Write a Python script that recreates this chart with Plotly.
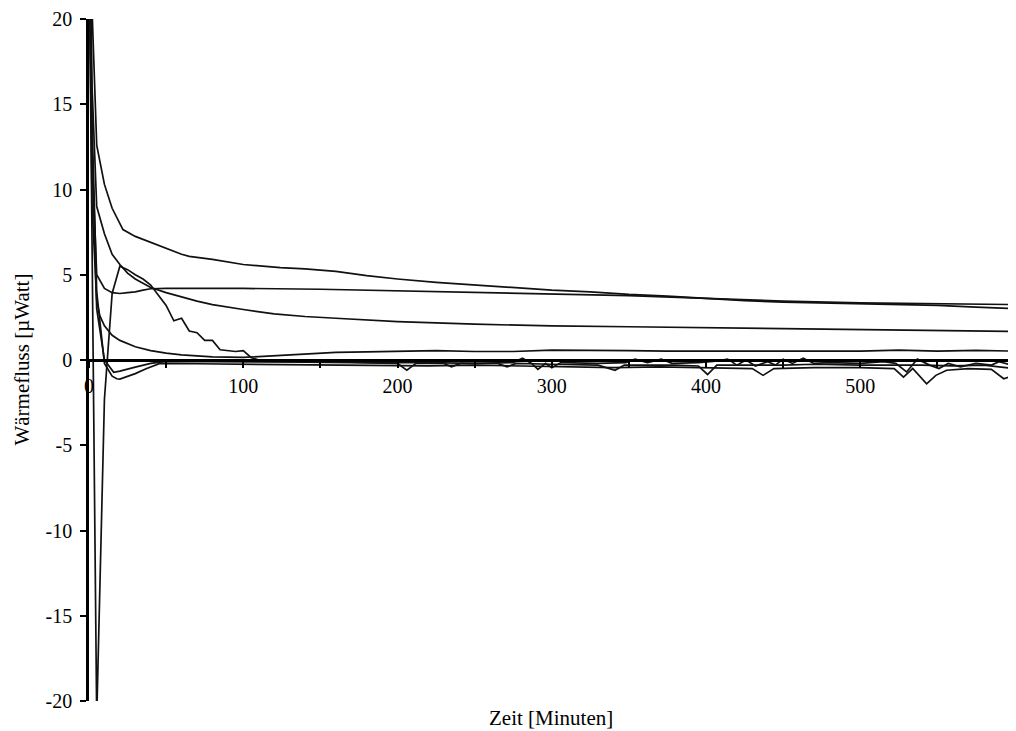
import plotly.graph_objects as go

# ---- data (minutes, µWatt) ----
t_a = [0, 2, 5, 10, 15, 20, 22, 30, 40, 46, 50, 60, 65, 80, 100, 124, 140, 160, 180, 200, 225, 250, 275,
       300, 325, 350, 375, 400, 425, 450, 475, 500, 525, 550, 575, 600]
v_a = [40, 20.5, 12.6, 10.3, 8.9, 8.0, 7.65, 7.25, 6.9, 6.67, 6.55, 6.2, 6.08, 5.9, 5.6, 5.42, 5.35, 5.2, 4.95,
       4.75, 4.55, 4.4, 4.25, 4.1, 4.0, 3.85, 3.75, 3.62, 3.48, 3.4, 3.35, 3.3, 3.25, 3.2, 3.1, 3.02]

t_b = [0, 2, 5, 10, 15, 20, 25, 30, 35, 40, 50, 100, 150, 200, 250, 300, 350, 400, 450, 500, 550, 600]
v_b = [25, 12, 5.0, 4.2, 3.95, 3.9, 3.95, 4.0, 4.1, 4.18, 4.2, 4.2, 4.15, 4.05, 3.95, 3.88, 3.78, 3.62,
       3.45, 3.35, 3.3, 3.25]

t_c = [0, 2, 5, 10, 15, 20, 25, 30, 40, 50, 60, 70, 80, 90, 100, 120, 140, 160, 180, 200, 250, 300, 350,
       400, 450, 500, 550, 600]
v_c = [30, 16, 9.0, 7.4, 6.2, 5.6, 5.1, 4.75, 4.25, 3.95, 3.7, 3.45, 3.25, 3.1, 2.96, 2.7, 2.55, 2.45, 2.35,
       2.25, 2.1, 2.0, 1.95, 1.9, 1.85, 1.8, 1.75, 1.68]

t_d = [0, 2, 5, 7, 10, 15, 20, 30, 40, 50, 60, 80, 100, 120, 140, 160, 180, 200, 225, 250, 275, 300, 325,
       350, 375, 400, 425, 450, 475, 500, 525, 550, 575, 600]
v_d = [25, 9, 3.5, 2.6, 2.0, 1.45, 1.15, 0.78, 0.55, 0.4, 0.3, 0.18, 0.15, 0.25, 0.35, 0.45, 0.48, 0.5,
       0.55, 0.5, 0.5, 0.58, 0.58, 0.55, 0.52, 0.5, 0.52, 0.52, 0.5, 0.52, 0.58, 0.52, 0.56, 0.52]

t_e = [0, 2, 5, 10, 15, 18, 20, 25, 30, 37, 46, 70, 100, 130, 160, 190, 220, 250, 280, 310, 340, 370, 400,
       430, 437, 444, 470, 500, 522, 528, 534, 543, 549, 556, 570, 585, 593, 600]
v_e = [25, 14, 4.0, -0.2, -0.95, -1.1, -1.12, -0.95, -0.8, -0.51, -0.2, -0.22, -0.25, -0.28, -0.3, -0.32,
       -0.35, -0.3, -0.35, -0.4, -0.45, -0.4, -0.45, -0.5, -0.9, -0.5, -0.45, -0.45, -0.5, -1.0, -0.5, -1.4,
       -0.9, -0.6, -0.5, -0.55, -1.1, -0.9]

t_f = [0, 2, 5, 10, 16, 20, 30, 40, 50, 80, 110, 140, 170, 200, 206, 212, 230, 235, 241, 265, 271, 277,
       300, 330, 341, 347, 380, 395, 401, 407, 450, 470, 500, 540, 560, 580, 600]
v_f = [25, 12, 3.0, 0.0, -0.72, -0.65, -0.42, -0.2, -0.08, -0.08, -0.1, -0.12, -0.15, -0.2, -0.6, -0.2,
       -0.2, -0.4, -0.2, -0.2, -0.4, -0.2, -0.25, -0.3, -0.6, -0.3, -0.3, -0.35, -0.85, -0.3, -0.3, -0.25,
       -0.3, -0.3, -0.35, -0.3, -0.5]

t_g = [0, 5, 10, 15, 20, 25, 30, 35, 40, 45, 50, 55, 60, 65, 70, 75, 80, 85, 90, 95, 100, 105, 110, 150,
       190, 220, 250, 275, 281, 287, 291, 296, 300, 306, 330, 348, 354, 362, 371, 378, 395, 408, 414, 420,
       426, 432, 440, 445, 450, 456, 463, 470, 480, 500, 515, 523, 530, 537, 545, 551, 557, 565, 575, 585,
       590, 600]
v_g = [25, -21, -2.3, 3.9, 5.5, 5.3, 5.0, 4.75, 4.4, 3.8, 3.2, 2.3, 2.45, 1.7, 1.6, 1.15, 1.15, 0.6, 0.55,
       0.5, 0.55, 0.15, 0.0, -0.1, -0.15, -0.15, -0.2, -0.15, 0.1, -0.2, -0.55, -0.2, -0.45, -0.15, -0.2,
       -0.15, 0.05, -0.15, 0.05, -0.2, -0.15, -0.05, 0.05, -0.3, 0.0, -0.35, -0.1, -0.3, 0.05, -0.2, 0.1,
       -0.2, -0.15, -0.2, -0.1, -0.2, -0.7, 0.05, -0.3, -0.5, -0.2, -0.4, -0.2, -0.3, -0.1, -0.35]

series = [(t_a, v_a), (t_b, v_b), (t_c, v_c), (t_d, v_d), (t_e, v_e), (t_f, v_f), (t_g, v_g)]

x_tickvals = [0, 50, 100, 150, 200, 250, 300, 350, 400, 450, 500, 550]
x_ticktext = ["0", "", "100", "", "200", "", "300", "", "400", "", "500", ""]
y_tickvals = [-20, -15, -10, -5, 0, 5, 10, 15, 20]
y_ticktext = ["-20", "-15", "-10", "-5", "0", "5", "10", "15", "20"]

FONT = "Liberation Serif"

fig = go.Figure()
for tx, vy in series:
    fig.add_trace(go.Scatter(x=tx, y=vy, mode="lines",
                             line=dict(color="#111111", width=1.7),
                             showlegend=False, hoverinfo="skip"))

# the page body adds an 8px offset; figure size/margins compensate for it
fig.update_layout(
    width=1008, height=723,
    margin=dict(l=81, r=3, t=11, b=30),
    paper_bgcolor="white", plot_bgcolor="white",
    font=dict(family=FONT, size=20, color="black"),
    xaxis=dict(range=[0, 599], anchor="free", position=0.5, automargin=False,
               showline=True, linecolor="black", linewidth=2.5,
               ticks="outside", ticklen=6, tickwidth=1.5, tickcolor="black",
               tickvals=x_tickvals, ticktext=x_ticktext,
               tickfont=dict(family=FONT, size=20),
               ticklabelstandoff=1,
               showgrid=False, zeroline=False),
    yaxis=dict(range=[-20, 20], domain=[0, 1], automargin=False,
               showline=True, linecolor="black", linewidth=2.5,
               ticks="outside", ticklen=6, tickwidth=2, tickcolor="black",
               tickvals=y_tickvals, ticktext=y_ticktext,
               tickfont=dict(family=FONT, size=20),
               ticklabelstandoff=4,
               showgrid=False, zeroline=False),
    annotations=[
        dict(text="Zeit [Minuten]", xref="paper", yref="paper",
             x=0.5, y=-0.025, yanchor="middle", xanchor="center",
             showarrow=False, font=dict(family=FONT, size=21)),
        dict(text="Wärmefluss [µWatt]", xref="paper", yref="paper",
             x=-0.073, y=0.5, textangle=-90, xanchor="center", yanchor="middle",
             showarrow=False, font=dict(family=FONT, size=21)),
    ],
)

fig.write_html("out.html")
